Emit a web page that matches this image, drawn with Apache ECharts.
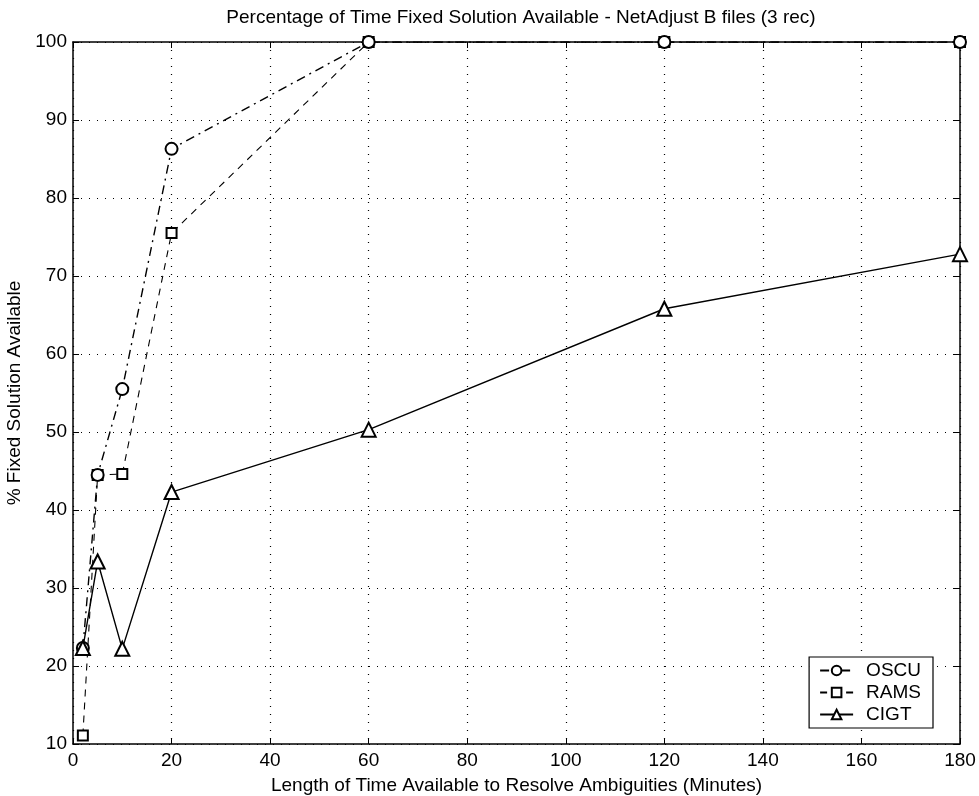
<!DOCTYPE html>
<html><head><meta charset="utf-8">
<script src="https://cdn.jsdelivr.net/npm/echarts@6/dist/echarts.min.js"></script>
<style>html,body{margin:0;padding:0;background:#fff}#c{width:979px;height:796px}</style>
</head><body><div id="c"></div>
<script>
const xValues = [2, 5, 10, 20, 60, 120, 180];
const oscu = [22.3, 44.5, 55.5, 86.3, 100, 100, 100];
const rams = [11.1, 44.5, 44.6, 75.5, 100, 100, 100];
const cigt = [22.3, 33.4, 22.2, 42.3, 50.3, 65.8, 72.8];
const xTicks = [0, 20, 40, 60, 80, 100, 120, 140, 160, 180];
const yTicks = [10, 20, 30, 40, 50, 60, 70, 80, 90, 100];

const FONT = 'Liberation Sans, Arial, sans-serif';
const FS = 19;
const pairs = (xs, ys) => xs.map((x, i) => [x, ys[i]]);

const chart = echarts.init(document.getElementById('c'), null, {renderer: 'canvas'});
const gridLine = {show: true, lineStyle: {color: '#000', type: [1, 7], width: 1.2}};
chart.setOption({
  animation: false,
  backgroundColor: '#fff',
  title: {
    text: 'Percentage of Time Fixed Solution Available - NetAdjust B files (3 rec)',
    left: 516, top: 3, textAlign: 'center',
    textStyle: {fontFamily: FONT, fontSize: FS, fontWeight: 'normal', color: '#000'}
  },
  legend: {
    right: 46, bottom: 68, orient: 'vertical',
    backgroundColor: '#fff', borderColor: '#000', borderWidth: 1.2,
    padding: [4, 12, 4, 10], itemGap: 3, itemWidth: 33, itemHeight: 12,
    textStyle: {fontFamily: FONT, fontSize: FS, color: '#000', padding: [0, 0, 0, 8]},
    data: ['OSCU', 'RAMS', 'CIGT']
  },
  grid: {left: 73, right: 19, top: 42, bottom: 52, containLabel: false, outerBoundsMode: 'none'},
  xAxis: [{
    type: 'value', min: 0, max: 180, interval: 20,
    name: 'Length of Time Available to Resolve Ambiguities (Minutes)',
    nameLocation: 'middle', nameGap: 32,
    nameTextStyle: {fontFamily: FONT, fontSize: FS, color: '#000'},
    axisLine: {show: true, onZero: false, lineStyle: {color: '#000', width: 1.5}},
    axisTick: {show: true, inside: true, length: 6, lineStyle: {color: '#000'}},
    axisLabel: {fontFamily: FONT, fontSize: FS, color: '#000', margin: 7,
      formatter: v => xTicks.includes(v) ? String(v) : ''},
    splitLine: gridLine
  }, {
    type: 'value', min: 0, max: 180, interval: 20, position: 'top',
    axisLine: {show: true, onZero: false, lineStyle: {color: '#000', width: 1.5}},
    axisTick: {show: true, inside: true, length: 6, lineStyle: {color: '#000'}},
    axisLabel: {show: false}, splitLine: {show: false}
  }],
  yAxis: [{
    type: 'value', min: 10, max: 100, interval: 10,
    name: '% Fixed Solution Available',
    nameLocation: 'middle', nameGap: 45,
    nameTextStyle: {fontFamily: FONT, fontSize: FS, color: '#000'},
    axisLine: {show: true, onZero: false, lineStyle: {color: '#000', width: 1.5}},
    axisTick: {show: true, inside: true, length: 6, lineStyle: {color: '#000'}},
    axisLabel: {fontFamily: FONT, fontSize: FS, color: '#000', margin: 6,
      formatter: v => yTicks.includes(v) ? String(v) : ''},
    splitLine: gridLine
  }, {
    type: 'value', min: 10, max: 100, interval: 10, position: 'right',
    axisLine: {show: true, onZero: false, lineStyle: {color: '#000', width: 1.5}},
    axisTick: {show: true, inside: true, length: 6, lineStyle: {color: '#000'}},
    axisLabel: {show: false}, splitLine: {show: false}
  }],
  series: [{
    name: 'OSCU', type: 'line', data: pairs(xValues, oscu),
    symbol: 'emptyCircle', symbolSize: 12,
    lineStyle: {color: '#000', width: 1.4, type: [9, 5, 2, 5]},
    itemStyle: {color: '#000', borderColor: '#000', borderWidth: 1.5},
    z: 3
  }, {
    name: 'RAMS', type: 'line', data: pairs(xValues, rams),
    symbol: 'emptyRect', symbolSize: 10,
    lineStyle: {color: '#000', width: 1.1, type: [7, 6]},
    itemStyle: {color: '#000', borderColor: '#000', borderWidth: 1},
    z: 2
  }, {
    name: 'CIGT', type: 'line', data: pairs(xValues, cigt),
    symbol: 'emptyTriangle', symbolSize: 14,
    lineStyle: {color: '#000', width: 1.4, type: 'solid'},
    itemStyle: {color: '#000', borderColor: '#000', borderWidth: 1.5},
    z: 4
  }]
});
</script></body></html>
